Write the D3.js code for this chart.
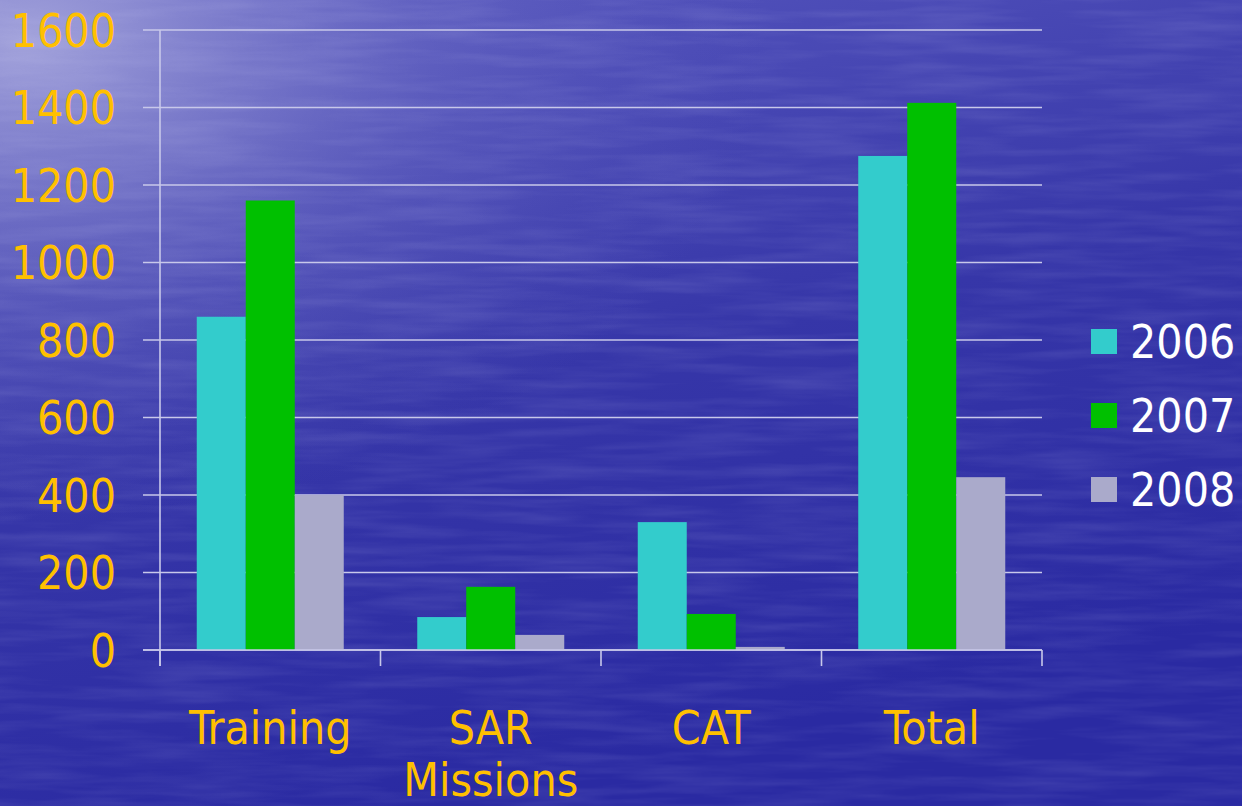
<!DOCTYPE html>
<html>
<head>
<meta charset="utf-8">
<script src="https://cdn.jsdelivr.net/npm/d3@7"></script>
<style>
  html, body { margin: 0; padding: 0; background: #2a2aa0; }
  svg { display: block; }
</style>
</head>
<body>
<div id="chart"></div>
<script>
// data
var categories = ["Training", "SAR Missions", "CAT", "Total"];
var years = ["2006", "2007", "2008"];
var values2006 = [860, 85, 330, 1275];
var values2007 = [1160, 163, 93, 1412];
var values2008 = [400, 39, 8, 446];
var yTicks = [0, 200, 400, 600, 800, 1000, 1200, 1400, 1600];
var colors = ["#33cccc", "#00c000", "#aaaacb"];

var W = 1242, H = 806;
var margin = { top: 30, right: 200, bottom: 156, left: 160 },
    width = 1042 - margin.left,
    height = 650 - margin.top;

var svg = d3.select("#chart")
    .append("svg")
    .attr("width", W)
    .attr("height", H);

//Background (water)
var defs = svg.append("defs");
var lg = defs.append("linearGradient")
    .attr("id", "bg")
    .attr("x1", 0).attr("y1", 0).attr("x2", 0.35).attr("y2", 1);
lg.append("stop").attr("offset", "0%").attr("stop-color", "#5a5ac0");
lg.append("stop").attr("offset", "55%").attr("stop-color", "#3636a8");
lg.append("stop").attr("offset", "100%").attr("stop-color", "#2a2aa2");

var rg = defs.append("radialGradient")
    .attr("id", "glow")
    .attr("cx", 0.02).attr("cy", 0.05).attr("r", 0.6);
rg.append("stop").attr("offset", "0%").attr("stop-color", "#b0b0e0").attr("stop-opacity", 0.85);
rg.append("stop").attr("offset", "55%").attr("stop-color", "#8080cc").attr("stop-opacity", 0.3);
rg.append("stop").attr("offset", "100%").attr("stop-color", "#6060c0").attr("stop-opacity", 0);

var filt = defs.append("filter").attr("id", "ripple")
    .attr("x", 0).attr("y", 0).attr("width", 1).attr("height", 1);
filt.append("feTurbulence")
    .attr("type", "fractalNoise")
    .attr("baseFrequency", "0.008 0.09")
    .attr("numOctaves", 3)
    .attr("seed", 4);
filt.append("feColorMatrix")
    .attr("type", "matrix")
    .attr("values", "0 0 0 0 0.75  0 0 0 0 0.75  0 0 0 0 1  0 0 0 0.5 -0.18");

svg.append("rect").attr("width", W).attr("height", H).attr("fill", "url(#bg)");
svg.append("rect").attr("width", W).attr("height", H).attr("fill", "url(#glow)");
svg.append("rect").attr("width", W).attr("height", H).attr("filter", "url(#ripple)").attr("opacity", 0.4);

var g = svg.append("g")
    .attr("transform", "translate(" + margin.left + "," + margin.top + ")");

var font = "'DejaVu Sans Condensed', 'DejaVu Sans', sans-serif";

//Scales
var x0 = d3.scaleBand()
    .domain(categories)
    .range([0, width])
    .padding(0);

var x1 = d3.scaleBand()
    .domain(years)
    .range([0, x0.bandwidth()])
    .paddingInner(0)
    .paddingOuter(0.75);

var y = d3.scaleLinear()
    .domain([0, 1600])
    .range([height, 0]);

//Gridlines
g.selectAll(".grid")
    .data(yTicks)
    .enter()
    .append("line")
    .attr("x1", -17)
    .attr("x2", width)
    .attr("y1", function (d) { return y(d); })
    .attr("y2", function (d) { return y(d); })
    .attr("stroke", "#c8c8ea")
    .attr("stroke-width", 1.6);

//Y axis labels
g.selectAll(".ylab")
    .data(yTicks)
    .enter()
    .append("text")
    .attr("x", -44)
    .attr("y", function (d) { return y(d); })
    .attr("dy", "0.36em")
    .attr("text-anchor", "end")
    .style("font-family", font)
    .style("font-size", "46px")
    .attr("fill", "#ffc000")
    .text(function (d) { return d; });

//Bars
var seriesValues = [values2006, values2007, values2008];
var rows = categories.map(function (c, i) {
    return years.map(function (yr, j) {
        return { cat: c, year: yr, value: seriesValues[j][i], color: colors[j] };
    });
});

g.selectAll(".group")
    .data(rows)
    .enter()
    .append("g")
    .attr("transform", function (d) { return "translate(" + x0(d[0].cat) + ",0)"; })
    .selectAll("rect")
    .data(function (d) { return d; })
    .enter()
    .append("rect")
    .attr("x", function (d) { return x1(d.year); })
    .attr("y", function (d) { return y(d.value); })
    .attr("width", x1.bandwidth())
    .attr("height", function (d) { return height - y(d.value); })
    .attr("fill", function (d) { return d.color; });

//Axes lines
g.append("line")
    .attr("x1", 0).attr("x2", 0)
    .attr("y1", 0).attr("y2", height + 16)
    .attr("stroke", "#c8c8ea").attr("stroke-width", 1.6);

g.append("line")
    .attr("x1", -17).attr("x2", width)
    .attr("y1", height).attr("y2", height)
    .attr("stroke", "#c8c8ea").attr("stroke-width", 1.6);

var bounds = categories.map(function (c) { return x0(c); }).concat([width]);
g.selectAll(".xtick")
    .data(bounds)
    .enter()
    .append("line")
    .attr("x1", function (d) { return d; })
    .attr("x2", function (d) { return d; })
    .attr("y1", height)
    .attr("y2", height + 16)
    .attr("stroke", "#c8c8ea").attr("stroke-width", 1.6);

//X labels
var xl = g.selectAll(".xlab")
    .data(categories)
    .enter()
    .append("text")
    .attr("x", function (d) { return x0(d) + x0.bandwidth() / 2; })
    .attr("y", height + 94)
    .attr("text-anchor", "middle")
    .style("font-family", font)
    .style("font-size", "46px")
    .attr("fill", "#ffc000");

xl.each(function (d) {
    var words = d.split(" ");
    var t = d3.select(this);
    words.forEach(function (w, i) {
        t.append("tspan")
            .attr("x", x0(d) + x0.bandwidth() / 2)
            .attr("dy", i === 0 ? 0 : 52)
            .text(w);
    });
});

//Legend
var legend = svg.append("g");
legend.selectAll("rect")
    .data(years)
    .enter()
    .append("rect")
    .attr("x", 1091)
    .attr("y", function (d, i) { return 329 + i * 74; })
    .attr("width", 26)
    .attr("height", 25)
    .attr("fill", function (d, i) { return colors[i]; });

legend.selectAll("text")
    .data(years)
    .enter()
    .append("text")
    .attr("x", 1130)
    .attr("y", function (d, i) { return 341 + i * 74; })
    .attr("dy", "0.36em")
    .style("font-family", font)
    .style("font-size", "46px")
    .attr("fill", "#ffffff")
    .text(function (d) { return d; });
</script>
</body>
</html>
